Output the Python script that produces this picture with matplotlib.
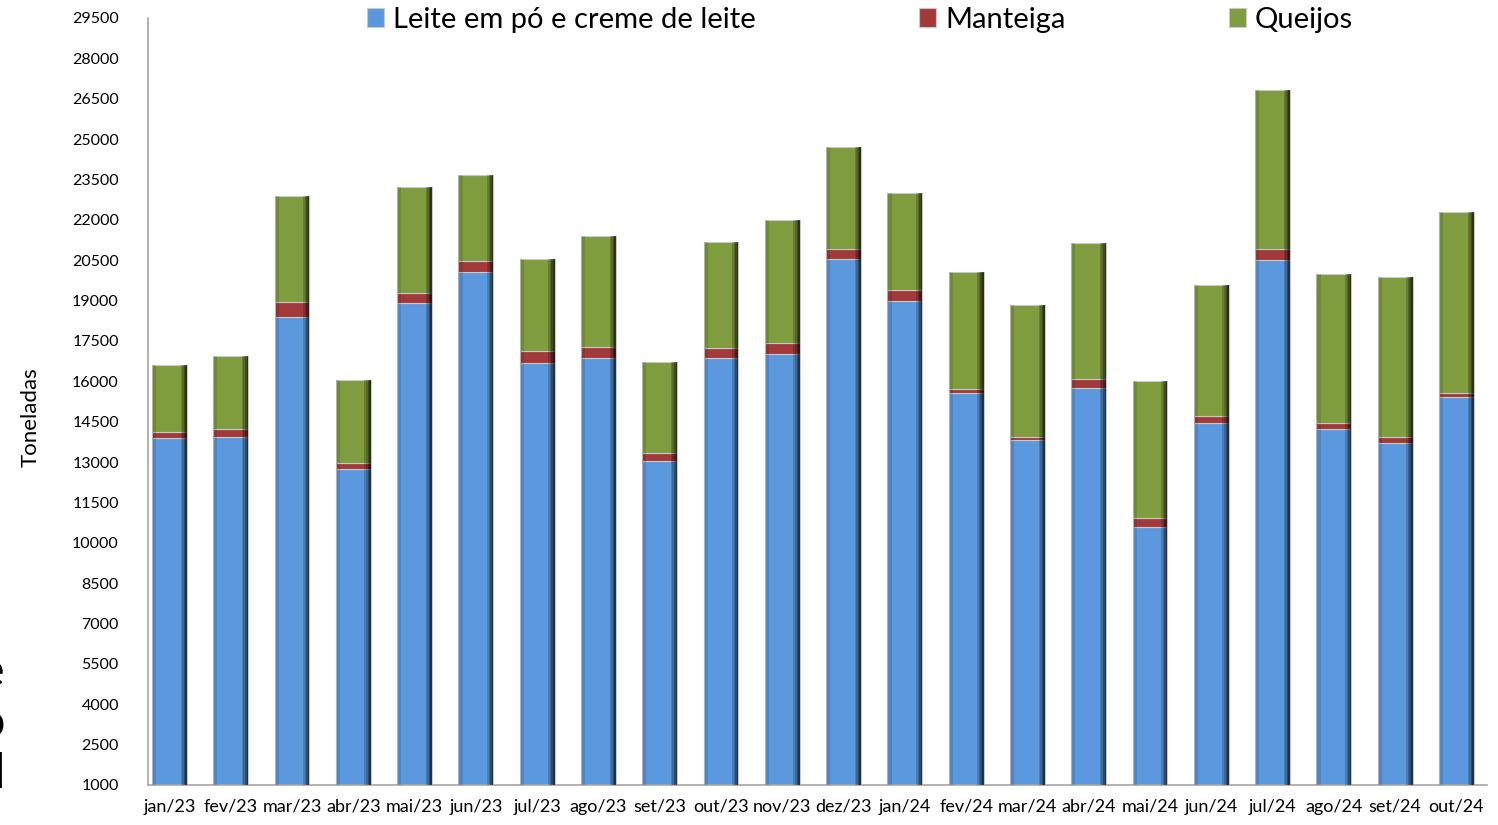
import matplotlib.pyplot as plt
import numpy as np

meses = ["jan/23", "fev/23", "mar/23", "abr/23", "mai/23", "jun/23", "jul/23",
         "ago/23", "set/23", "out/23", "nov/23", "dez/23", "jan/24", "fev/24",
         "mar/24", "abr/24", "mai/24", "jun/24", "jul/24", "ago/24", "set/24",
         "out/24"]

leite = [13895, 13930, 18390, 12745, 18910, 20065, 16680, 16870, 13040, 16870,
         17015, 20545, 18985, 15565, 13820, 15755, 10590, 14450, 20510, 14230,
         13710, 15420]
manteiga = [225, 300, 560, 220, 370, 410, 445, 410, 300, 370,
            410, 370, 410, 150, 110, 330, 330, 260, 410, 220,
            220, 150]
queijos = [2490, 2710, 3940, 3085, 3940, 3195, 3420, 4125, 3380, 3940,
           4570, 3790, 3605, 4345, 4905, 5055, 5090, 4870, 5910, 5535,
           5945, 6725]

series = [("Leite em pó e creme de leite", leite, "#5b98de"),
          ("Manteiga", manteiga, "#a23a3c"),
          ("Queijos", queijos, "#7f9c3e")]

plt.rcParams["font.family"] = ["Lato", "DejaVu Sans"]

fig = plt.figure(figsize=(14.98, 8.25), dpi=100)
ax = fig.add_axes([0.0988, 0.0485, 0.8939, 0.9297])

x = np.arange(len(meses))
w = 0.57
base = np.zeros(len(meses))
handles = []
for nome, vals, cor in series:
    vals = np.array(vals, dtype=float)
    h = ax.bar(x, vals, w, bottom=base, color=cor, edgecolor="#c9c9c9",
               linewidth=0.8, label=nome, zorder=2)
    handles.append(h)
    # bevel shading: darker right side, lighter left side
    for k, a in enumerate([0.18, 0.32, 0.5, 0.68]):
        s = w * 0.045
        ax.bar(x + w / 2 - s * (4 - k) + s / 2, vals, s, bottom=base,
               color="black", alpha=a, linewidth=0, zorder=3)
    ax.bar(x - w / 2 + w * 0.06, vals, w * 0.12, bottom=base,
           color="black", alpha=0.12, linewidth=0, zorder=3)
    base += vals

ax.set_xlim(-0.35, 21.5)
ax.set_ylim(1000, 29500)
ax.set_yticks(np.arange(1000, 29501, 1500))
ax.set_xticks(x)
ax.set_xticklabels(meses)
ax.tick_params(axis="y", length=0, pad=21, labelsize=11.5)
ax.tick_params(axis="x", length=0, pad=10, labelsize=13)
for lado in ["top", "right"]:
    ax.spines[lado].set_visible(False)
for lado in ["left", "bottom"]:
    ax.spines[lado].set_color("#a6a6a6")
    ax.spines[lado].set_linewidth(1.2)

ax.set_ylabel("Toneladas", fontsize=16)
ax.yaxis.set_label_coords(-0.08, 0.48)

fig.legend(handles=handles, loc="center", bbox_to_anchor=(0.574, 0.976),
           ncol=3, frameon=False, fontsize=21, handlelength=0.6,
           handleheight=0.6, handletextpad=0.3, columnspacing=5.6)

# clipped fragment of text at the left edge
fig.text(5 / 1498, 0.035, "e\no\nd", ha="right", va="bottom", fontsize=35,
         linespacing=1.2)

fig.savefig("out.png", dpi=100)
